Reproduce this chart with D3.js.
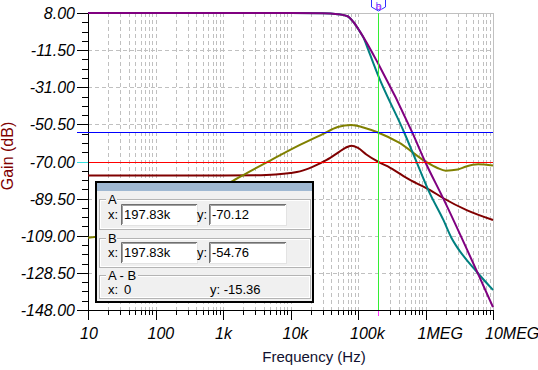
<!DOCTYPE html>
<html>
<head>
<meta charset="utf-8">
<script src="https://cdn.jsdelivr.net/npm/d3@7"></script>
<style>
  body { margin: 0; background: #fff; }
  svg { display: block; font-family: "Liberation Sans", Arial, sans-serif; }
</style>
</head>
<body>
<div id="chart"></div>
<script>
// curve data (frequency in Hz, gain in dB)
const purpleHz = [10, 1e3, 1e4, 3e4, 5e4, 7e4, 8.5e4, 1.07e5, 1.978e5, 6.46e5, 9.84e5, 1.83e6, 6.27e6, 1e7];
const purpleDb = [8, 8, 8, 7.9, 7.4, 6.3, 3.4, -1.8, -18.4, -55.2, -70.0, -89.4, -130.5, -146.5];

const tealHz = [10, 1e3, 1e4, 3e4, 5e4, 7e4, 8.5e4, 1.07e5, 1.2e5, 1.42e5, 1.978e5, 4.8e5, 7.26e5, 1.1e6, 1.84e6, 2.44e6, 2.9e6, 5.74e6, 1e7];
const tealDb = [8, 8, 8, 7.9, 7.4, 6.3, 3.3, -1.9, -4.8, -11.4, -24.6, -54.5, -69.7, -85.0, -100.7, -110.3, -114.7, -127.9, -137.5];

const oliveHz = [10, 100, 300, 1e3, 1.4e3, 2e3, 5e3, 1.38e4, 3e4, 5e4, 8e4, 1.2e5, 1.978e5, 4e5, 1e6, 1.5e6, 2e6, 3e6, 4e6, 6e6, 1e7];
const oliveDb = [-110, -103, -95, -83, -80.2, -77.1, -69.5, -61.3, -55.6, -51.9, -50.8, -52.1, -54.76, -60.0, -70.0, -73.4, -74.8, -74.2, -72.6, -71.5, -72.1];

const maroonHz = [10, 1e3, 3e3, 6e3, 1e4, 1.38e4, 2.16e4, 3.44e4, 5e4, 6.5e4, 8e4, 1e5, 1.33e5, 1.978e5, 3e5, 5.89e5, 1.17e6, 1.84e6, 4.07e6, 1e7];
const maroonDb = [-77.3, -77.3, -77.2, -76.8, -76.0, -75.2, -72.7, -69.2, -65.5, -62.8, -61.7, -62.9, -66.3, -70.12, -73.3, -79.7, -85.0, -89.3, -95.5, -100.7];

const yTicks = [8, -11.5, -31, -50.5, -70, -89.5, -109, -128.5, -148];
const xMajor = [10, 100, 1e3, 1e4, 1e5, 1e6, 1e7];
const xTickLabels = ["10", "100", "1k", "10k", "100k", "1MEG", "10MEG"];

// cursors
const cursorAx = 197.83e3, cursorAy = -70.12;
const cursorBx = 197.83e3, cursorBy = -54.76;

const W = 538, H = 370;
const pl = 88, pr = 493, pt = 13, pb = 310;

const fmt2 = v => v.toFixed(2);   // plain hyphen minus, like the original

const svg = d3.select("#chart").append("svg")
  .attr("width", W).attr("height", H);

const x = d3.scaleLog().domain([10, 1e7]).range([pl, pr]);
const y = d3.scaleLinear().domain([-148, 8]).range([pb, pt]);

const xMinor = [];
xMajor.slice(0, -1).forEach(d => { for (let m = 2; m <= 9; m++) xMinor.push(d * m); });
const yMinor = [];
for (let i = 0; i < yTicks.length - 1; i++) {
  const step = (yTicks[i + 1] - yTicks[i]) / 4;
  for (let k = 1; k < 4; k++) yMinor.push(yTicks[i] + step * k);
}
const px = v => Math.round(x(v)) + 0.5;
const py = v => Math.round(y(v)) + 0.5;

// grid
const grid = svg.append("g").attr("stroke", "#c0c0c0").attr("stroke-width", 1).attr("stroke-dasharray", "4,3");
grid.selectAll(".vg").data(xMajor.concat(xMinor)).join("line")
  .attr("x1", px).attr("x2", px)
  .attr("y1", pt).attr("y2", pb);
grid.selectAll(".hg").data(yTicks).join("line")
  .attr("x1", pl).attr("x2", pr)
  .attr("y1", py).attr("y2", py);

// plot frame (top/right light)
svg.append("path").attr("d", `M${pl},${pt + 0.5}H${pr + 0.5}V${pb}`)
  .attr("fill", "none").attr("stroke", "#c0c0c0");

// axes
svg.append("line").attr("x1", pl + 0.5).attr("x2", pl + 0.5).attr("y1", pt).attr("y2", pb + 0.5).attr("stroke", "#000");
svg.append("line").attr("x1", pl).attr("x2", pr + 1).attr("y1", pb + 0.5).attr("y2", pb + 0.5).attr("stroke", "#000");

svg.append("g").selectAll("line").data(yTicks).join("line")
  .attr("x1", 77).attr("x2", pl).attr("y1", py).attr("y2", py).attr("stroke", "#000");
svg.append("g").selectAll("line").data(yMinor).join("line")
  .attr("x1", 82).attr("x2", pl).attr("y1", py).attr("y2", py).attr("stroke", "#000");
svg.append("g").selectAll("line").data(xMajor).join("line")
  .attr("x1", px).attr("x2", px).attr("y1", pb).attr("y2", pb + 10).attr("stroke", "#000");
svg.append("g").selectAll("line").data(xMinor).join("line")
  .attr("x1", px).attr("x2", px).attr("y1", pb).attr("y2", pb + 5).attr("stroke", "#000");

svg.append("g").selectAll("text").data(yTicks).join("text")
  .attr("x", 75).attr("y", d => y(d) + 6)
  .attr("text-anchor", "end")
  .attr("font-size", 16).attr("font-style", "italic").attr("fill", "#000")
  .text(fmt2);
svg.append("g").selectAll("text").data(xMajor).join("text")
  .attr("x", d => x(d) - 8).attr("y", 339)
  .attr("font-size", 16).attr("font-style", "italic").attr("fill", "#000")
  .text((d, i) => xTickLabels[i]);

svg.append("text").attr("transform", "translate(13,156) rotate(-90)")
  .attr("text-anchor", "middle").attr("font-size", 16).attr("fill", "#800000")
  .text("Gain (dB)");
svg.append("text").attr("x", 314).attr("y", 362)
  .attr("text-anchor", "middle").attr("font-size", 15).attr("fill", "#101030")
  .text("Frequency (Hz)");

// curves
svg.append("clipPath").attr("id", "plotclip").append("rect")
  .attr("x", pl).attr("y", pt - 2).attr("width", pr - pl + 1).attr("height", pb - pt + 3);

const line = d3.line().x(d => x(d[0])).y(d => y(d[1])).curve(d3.curveMonotoneX);
const curves = svg.append("g").attr("clip-path", "url(#plotclip)");
[
  [maroonHz, maroonDb, "#800000"],
  [oliveHz, oliveDb, "#808000"],
  [tealHz, tealDb, "#008080"],
  [purpleHz, purpleDb, "#800080"]
].forEach(([hz, db, color]) => {
  curves.append("path")
    .datum(d3.zip(hz, db))
    .attr("d", line)
    .attr("fill", "none").attr("stroke", color).attr("stroke-width", 2);
});

// cursor lines
const yA = py(cursorAy), yB = py(cursorBy), xc = px(cursorAx);
svg.append("line").attr("x1", 77).attr("x2", pr).attr("y1", yB).attr("y2", yB).attr("stroke", "#0000ff");
svg.append("line").attr("x1", pl + 1).attr("x2", pr).attr("y1", yA).attr("y2", yA).attr("stroke", "#ff0000");
svg.append("line").attr("x1", 77).attr("x2", pl).attr("y1", yA).attr("y2", yA).attr("stroke", "#33e0e0");
svg.append("line").attr("x1", xc).attr("x2", xc).attr("y1", pt).attr("y2", pb).attr("stroke", "#33ee33");
svg.append("line").attr("x1", xc).attr("x2", xc).attr("y1", pb + 1).attr("y2", pb + 6).attr("stroke", "#ff33ff");
svg.append("path").attr("d", `M${xc - 7},0V7L${xc},11L${xc + 7},7V0`)
  .attr("fill", "#fff").attr("stroke", "#3030ff");
svg.append("text").attr("x", xc).attr("y", 10).attr("text-anchor", "middle")
  .attr("font-size", 11).attr("fill", "#ff40ff").text("a");
svg.append("text").attr("x", xc).attr("y", 10).attr("text-anchor", "middle")
  .attr("font-size", 11).attr("fill", "#3030ff").attr("opacity", 0.7).text("b");

// cursor readout box
const box = svg.append("g").attr("font-size", 13).attr("fill", "#000");
box.append("rect").attr("x", 96).attr("y", 182).attr("width", 217).attr("height", 120)
  .attr("fill", "#f0f0f0").attr("stroke", "#000").attr("stroke-width", 2);
box.append("rect").attr("x", 97).attr("y", 183).attr("width", 215).attr("height", 8).attr("fill", "#9fb8d2");

function groupBox(gx, gy, gw, gh, label, lw) {
  box.append("rect").attr("x", gx + 0.5).attr("y", gy + 0.5).attr("width", gw).attr("height", gh)
    .attr("fill", "none").attr("stroke", "#b4b4b4");
  box.append("rect").attr("x", gx + 1.5).attr("y", gy + 1.5).attr("width", gw - 2).attr("height", gh - 2)
    .attr("fill", "none").attr("stroke", "#ffffff");
  box.append("rect").attr("x", gx + 7).attr("y", gy - 3).attr("width", lw).attr("height", 8).attr("fill", "#f0f0f0");
  box.append("text").attr("x", gx + 9).attr("y", gy + 5).text(label);
}
function inputBox(ix, iy, iw, ih, txt) {
  box.append("rect").attr("x", ix + 0.5).attr("y", iy + 0.5).attr("width", iw).attr("height", ih)
    .attr("fill", "#fff").attr("stroke", "#e3e3e3");
  box.append("path").attr("d", `M${ix + 0.5},${iy + ih}V${iy + 0.5}H${ix + iw}`)
    .attr("fill", "none").attr("stroke", "#707070");
  box.append("path").attr("d", `M${ix + 1.5},${iy + ih - 1}V${iy + 1.5}H${ix + iw - 1}`)
    .attr("fill", "none").attr("stroke", "#a0a0a0");
  box.append("text").attr("x", ix + 3).attr("y", iy + 15).attr("fill", "#000").text(txt);
}

groupBox(99, 199, 211, 30, "A", 11);
box.append("text").attr("x", 108).attr("y", 219).text("x:");
inputBox(121, 204, 76, 21, fmt2(cursorAx / 1e3) + "k");
box.append("text").attr("x", 197).attr("y", 219).text("y:");
inputBox(209, 204, 77, 21, fmt2(cursorAy));

groupBox(99, 238, 211, 29, "B", 11);
box.append("text").attr("x", 108).attr("y", 257).text("x:");
inputBox(121, 242, 76, 21, fmt2(cursorBx / 1e3) + "k");
box.append("text").attr("x", 197).attr("y", 257).text("y:");
inputBox(209, 242, 77, 21, fmt2(cursorBy));

groupBox(99, 275, 211, 23, "A - B", 32);
box.append("text").attr("x", 108).attr("y", 294).text("x:");
box.append("text").attr("x", 124).attr("y", 294).text(String(cursorAx - cursorBx));
box.append("text").attr("x", 210).attr("y", 294).text("y: " + fmt2(cursorAy - cursorBy));
</script>
</body>
</html>
